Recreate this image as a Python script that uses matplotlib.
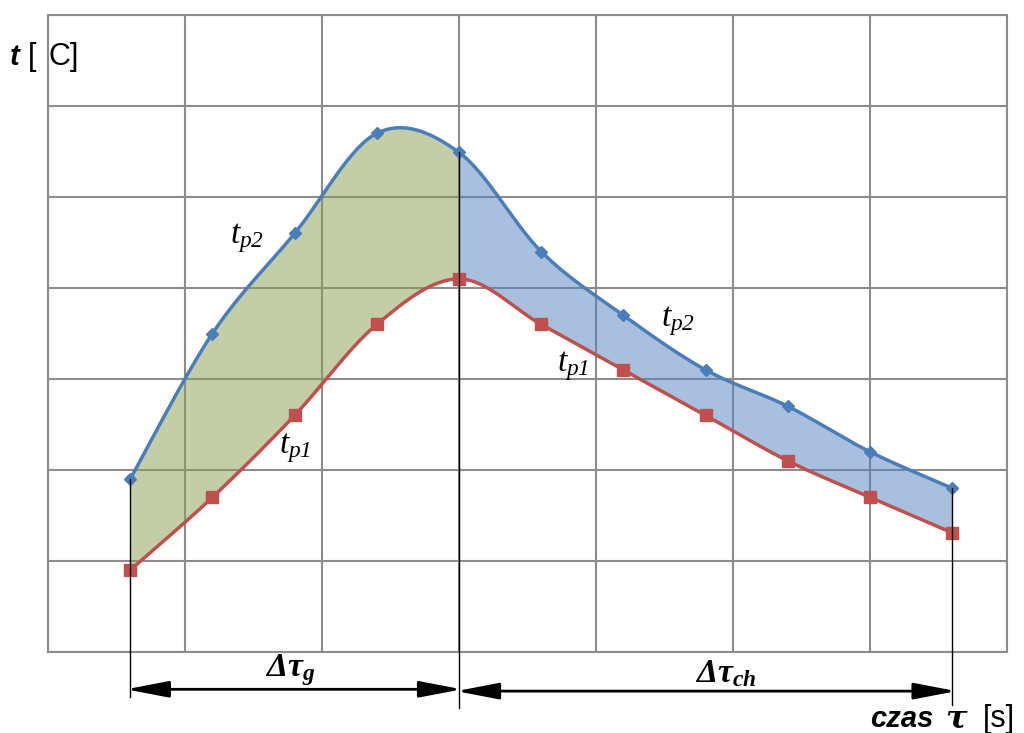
import numpy as np
import matplotlib.pyplot as plt

plt.rcParams['mathtext.fontset'] = 'custom'
plt.rcParams['mathtext.rm'] = 'Liberation Serif:italic'
plt.rcParams['mathtext.it'] = 'Liberation Serif:italic'
plt.rcParams['mathtext.bf'] = 'Liberation Serif:bold:italic'

# measured temperatures (grid units) at equal time steps
tau = [0.6, 1.2, 1.8, 2.4, 3.0, 3.6, 4.2, 4.8, 5.4, 6.0, 6.6]
t_p2 = [1.90, 3.50, 4.60, 5.70, 5.49, 4.40, 3.70, 3.10, 2.70, 2.20, 1.80]
t_p1 = [0.90, 1.70, 2.60, 3.60, 4.10, 3.60, 3.10, 2.60, 2.10, 1.70, 1.31]
i_split = 4  # end of heating / start of cooling

c_blue = '#4a7ebb'
c_red = '#c0504d'


def smooth(x, y, n=30):
    # Catmull-Rom style bezier through the points, one piece per segment
    p = np.column_stack([x, y]).astype(float)
    p = np.vstack([p[0], p, p[-1]])
    segs = []
    t = np.linspace(0, 1, n)[:, None]
    for k in range(1, len(p) - 2):
        p0, p1, p2, p3 = p[k - 1], p[k], p[k + 1], p[k + 2]
        c1 = p1 + (p2 - p0) / 6
        c2 = p2 - (p3 - p1) / 6
        b = ((1 - t) ** 3) * p1 + 3 * (1 - t) ** 2 * t * c1 + 3 * (1 - t) * t ** 2 * c2 + t ** 3 * p2
        segs.append(b)
    return segs


up = smooth(tau, t_p2)
lo = smooth(tau, t_p1)

fig = plt.figure(figsize=(10.24, 7.33), dpi=100)
ax = fig.add_axes([48 / 1024, 81 / 733, 959 / 1024, 637 / 733])
ax.set_xlim(0, 7)
ax.set_ylim(0, 7)
ax.set_xticks(range(8))
ax.set_yticks(range(8))
ax.tick_params(length=0, labelbottom=False, labelleft=False)
ax.grid(True, color='#8c8c8c', linewidth=1.5)
ax.set_axisbelow(True)
for s in ax.spines.values():
    s.set_color('#8c8c8c')
    s.set_linewidth(1.5)


def band(a, b, color):
    top = np.vstack(up[a:b])
    bot = np.vstack(lo[a:b])
    poly = np.vstack([top, bot[::-1]])
    ax.fill(poly[:, 0], poly[:, 1], color=color, alpha=0.5, linewidth=0, zorder=2)


band(0, i_split, '#899f55')
band(i_split, len(up), '#5381bd')

cu = np.vstack(up)
cl = np.vstack(lo)
ax.plot(cu[:, 0], cu[:, 1], color=c_blue, linewidth=2.5, zorder=3)
ax.plot(cl[:, 0], cl[:, 1], color=c_red, linewidth=2.5, zorder=3)
ax.plot(tau, t_p2, linestyle='none', marker='D', markersize=6.5, color=c_blue, zorder=4)
ax.plot(tau, t_p1, linestyle='none', marker='s', markersize=8.5, color=c_red, zorder=4)

# period boundaries and dimension arrows
ax.plot([tau[0], tau[0]], [t_p2[0], -0.49], color='black', linewidth=1, clip_on=False, zorder=5)
ax.plot([tau[i_split], tau[i_split]], [t_p2[i_split], -0.62], color='black', linewidth=1, clip_on=False, zorder=5)
ax.plot([tau[-1], tau[-1]], [t_p2[-1], -0.58], color='black', linewidth=1, clip_on=False, zorder=5)
arrow = dict(arrowstyle='<|-|>,head_length=1.3,head_width=0.25', color='black', linewidth=2,
             shrinkA=0, shrinkB=0, mutation_scale=20)
ax.annotate('', xy=(tau[0] - 0.03, -0.41), xytext=(tau[i_split] + 0.02, -0.41), arrowprops=arrow,
            annotation_clip=False)
ax.annotate('', xy=(tau[i_split] - 0.02, -0.43), xytext=(tau[-1] + 0.03, -0.43), arrowprops=arrow,
            annotation_clip=False)
ax.text(1.77, -0.2, r'$\mathbf{\Delta\tau_g}$', fontsize=24, ha='center', va='center')
ax.text(4.95, -0.23, r'$\mathbf{\Delta\tau_{ch}}$', fontsize=24, ha='center', va='center')

# curve labels
ax.text(1.45, 4.55, r'$t_{p2}$', fontsize=24, ha='center', va='center')
ax.text(1.8, 2.24, r'$t_{p1}$', fontsize=24, ha='center', va='center')
ax.text(4.6, 3.64, r'$t_{p2}$', fontsize=24, ha='center', va='center')
ax.text(3.83, 3.14, r'$t_{p1}$', fontsize=24, ha='center', va='center')

# axis titles
fig.text(10 / 1024, 1 - 65 / 733, 't', fontsize=21, fontweight='bold', fontstyle='italic',
         family='Liberation Sans', va='baseline')
fig.text(28 / 1024, 1 - 65 / 733, '[', fontsize=22, family='Liberation Sans', va='baseline')
fig.text(49 / 1024, 1 - 65 / 733, 'C]', fontsize=22, family='Liberation Sans', va='baseline')
fig.text(870 / 1024, 1 - 727 / 733, 'czas', fontsize=21, fontweight='bold', fontstyle='italic',
         family='Liberation Sans', va='baseline')
fig.text(945 / 1024, 1 - 727 / 733, 'τ', fontsize=23, fontweight='bold', fontstyle='italic',
         family='DejaVu Serif', va='baseline')
fig.text(983 / 1024, 1 - 727 / 733, '[s]', fontsize=22, family='Liberation Sans', va='baseline')

fig.savefig('out.png', dpi=100)
